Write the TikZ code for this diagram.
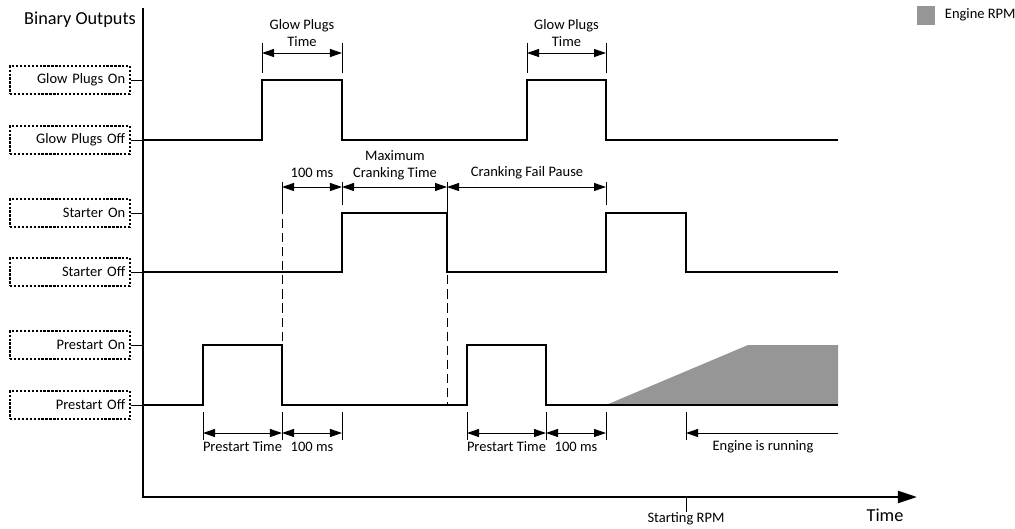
\documentclass[tikz,border=0pt]{standalone}
\usepackage{fontspec}
\setmainfont{Carlito}
\usetikzlibrary{arrows.meta, positioning, calc}

\definecolor{rpmgray}{RGB}{150,150,150}

\tikzset{
  lvlbox/.style={draw, line width=0.9pt, dash pattern=on 1.6pt off 1.2pt,
    text width=2.76cm, align=right, inner xsep=0.12cm,
    minimum height=0.7cm},
  signal/.style={line width=1.7pt, line join=miter},
  axisline/.style={line width=1.7pt},
  tickline/.style={line width=0.7pt},
  dimline/.style={line width=0.7pt,
    {Triangle[length=0.3cm, width=0.2cm]}-{Triangle[length=0.3cm, width=0.2cm]}},
  guide/.style={line width=0.6pt, dash pattern=on 6.5pt off 3.5pt},
  bigtext/.style={font=\fontsize{13}{15}\selectfont}
}

\begin{document}
\begin{tikzpicture}[x=0.025cm, y=-0.025cm, font=\fontsize{10.3}{12}\selectfont]
  \useasboundingbox (0,0) rectangle (1015,528);

  % legend
  \fill[rpmgray] (917,6) rectangle (935,25);
  \node[anchor=west] (legend) at (940,15) {Engine RPM};

  % output levels
  \node[bigtext] (title) at (80,20) {Binary Outputs};
  \node[lvlbox] (gpon) at (70,80) {Glow Plugs On};
  \node[lvlbox] (gpoff) at (70,140) {Glow Plugs Off};
  \node[lvlbox] (ston) at (70,213) {Starter On};
  \node[lvlbox] (stoff) at (70,272) {Starter Off};
  \node[lvlbox] (pson) at (70,345) {Prestart On};
  \node[lvlbox] (psoff) at (70,405) {Prestart Off};

  % axes
  \coordinate (top) at (143,8);
  \coordinate (origin) at (143,497);
  \coordinate (tend) at (917,497);
  \draw[axisline, -{Triangle[length=0.48cm, width=0.3cm]}] (top) -- (origin) -- (tend);
  \node[bigtext] (time) at (885,515) {Time};

  \foreach \lvl in {gpon, gpoff, ston, stoff, pson, psoff}
    \draw[tickline] (\lvl.east) -- (\lvl.east -| origin);

  % engine rpm
  \fill[rpmgray] (606,405) -- (748,345) -- (838,345) -- (838,405) -- cycle;

  % signals
  \draw[signal] (143,140) -- (262,140) -- (262,80) -- (342,80) -- (342,140)
    -- (527,140) -- (527,80) -- (606,80) -- (606,140) -- (838,140);
  \draw[signal] (143,272) -- (342,272) -- (342,213) -- (447,213) -- (447,272)
    -- (606,272) -- (606,213) -- (686,213) -- (686,272) -- (838,272);
  \draw[signal] (143,405) -- (203,405) -- (203,345) -- (282,345) -- (282,405)
    -- (467,405) -- (467,345) -- (546,345) -- (546,405) -- (838,405);

  % glow plugs time
  \foreach \a/\b in {262/342, 527/606} {
    \draw[tickline] (\a,43) -- (\a,73);
    \draw[tickline] (\b,43) -- (\b,73);
    \draw[dimline] (\a,53) -- (\b,53);
    \node[align=center] at ({(\a+\b)/2},33) {Glow Plugs\\Time};
  }

  % cranking
  \foreach \x in {282, 342, 447, 606}
    \draw[tickline] (\x,182) -- (\x,205);
  \draw[guide] (282,205) -- (282,405);
  \draw[guide] (447,205) -- (447,405);
  \draw[dimline] (282,187) -- (342,187);
  \draw[dimline] (342,187) -- (447,187);
  \draw[dimline] (447,187) -- (606,187);
  \node (ms1) at (312,173) {100 ms};
  \node[align=center] (maxcrank) at (395,165) {Maximum\\Cranking Time};
  \node (failpause) at (527,173) {Cranking Fail Pause};

  % prestart
  \foreach \x in {203, 282, 342, 467, 546, 606}
    \draw[tickline] (\x,412) -- (\x,440);
  \foreach \a/\b/\txt in {203/282/Prestart Time, 282/342/100 ms, 467/546/Prestart Time, 546/606/100 ms} {
    \draw[dimline] (\a,433) -- (\b,433);
    \node at ({(\a+\b)/2},447) {\txt};
  }

  % engine running
  \draw[tickline] (686,412) -- (686,440);
  \draw[line width=0.7pt, {Triangle[length=0.3cm, width=0.2cm]}-] (686,433) -- (838,433);
  \node (running) at (763,447) {Engine is running};
  \draw[tickline] (686,497) -- (686,512);
  \node (startrpm) at (686,519) {Starting RPM};
\end{tikzpicture}
\end{document}
